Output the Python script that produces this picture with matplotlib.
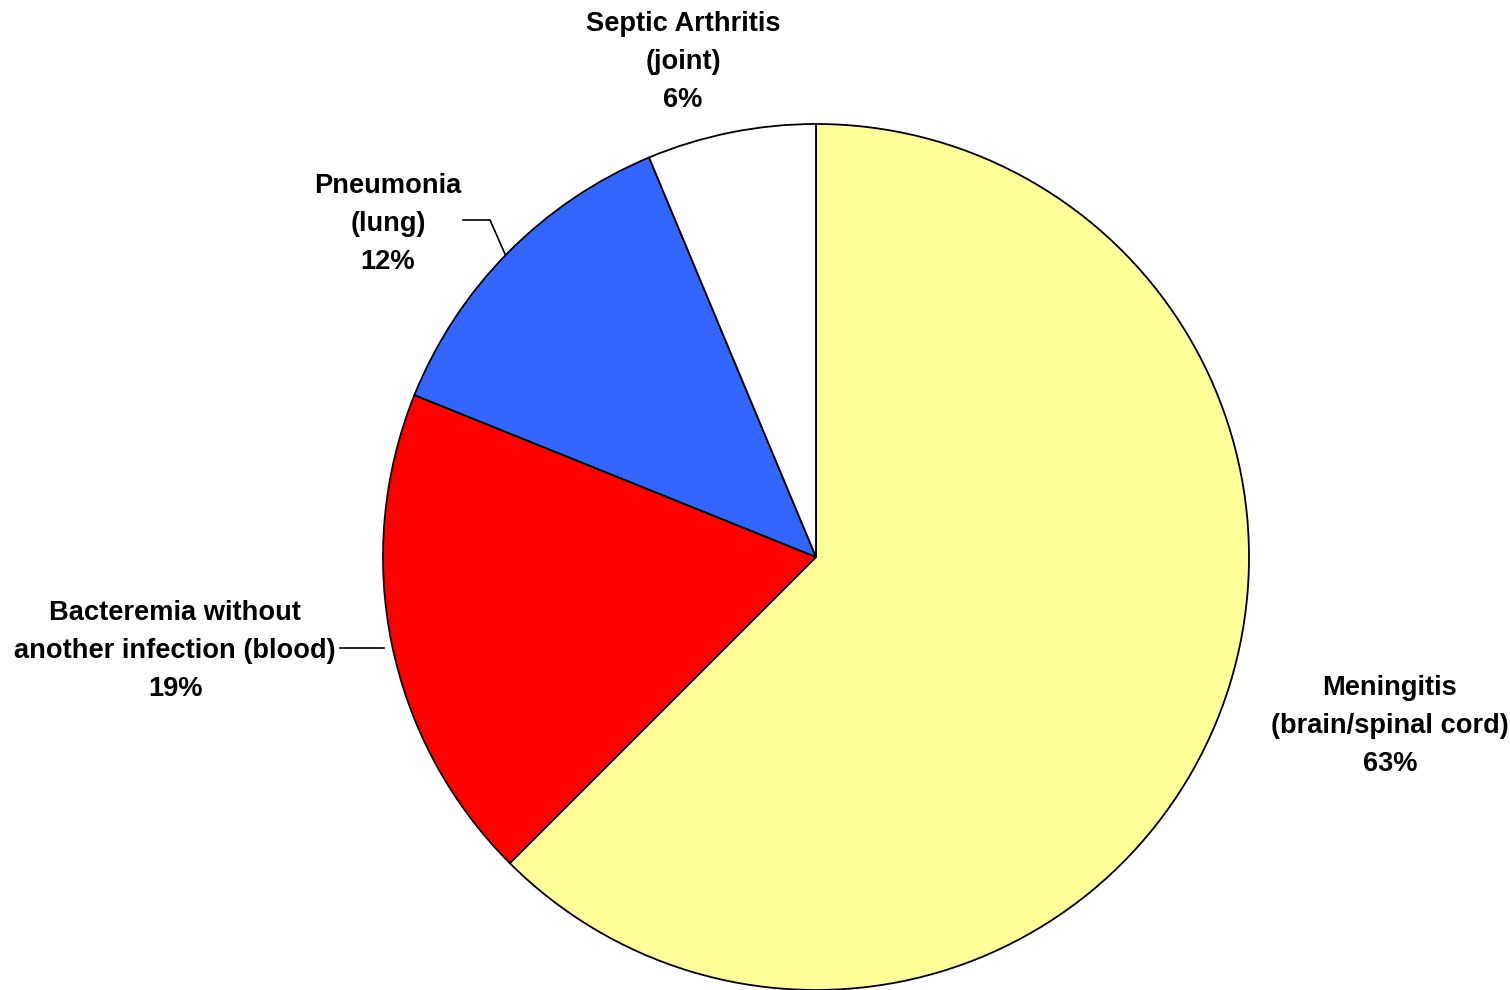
import matplotlib
matplotlib.use("Agg")
import matplotlib.pyplot as plt

# slices, clockwise from 12 o'clock
labels = ["Meningitis\n(brain/spinal cord)", "Bacteremia without\nanother infection (blood)",
          "Pneumonia\n(lung)", "Septic Arthritis\n(joint)"]
values = [62.5, 18.6, 12.6, 6.3]      # slice sizes as drawn
pct_text = [63, 19, 12, 6]           # percentages printed on labels
colors = ["#FFFF99", "#FF0000", "#3366FF", "#FFFFFF"]

# label centres (pixel coords, y from top)
label_pos = [(1390, 726), (175, 651), (388, 224), (683, 62)]

W, H = 1510, 990
fig = plt.figure(figsize=(W / 100, H / 100), dpi=100)
ax = fig.add_axes([0, 0, 1, 1])

cx, cy, r = 816, H - 557, 433
ax.pie(values, colors=colors, startangle=90, counterclock=False,
       center=(cx, cy), radius=r, frame=True,
       wedgeprops=dict(edgecolor="black", linewidth=1.3))
ax.set_xlim(0, W)
ax.set_ylim(0, H)
ax.set_aspect("equal")
ax.axis("off")

for lab, p, (x, y) in zip(labels, pct_text, label_pos):
    ax.text(x, H - y, f"{lab}\n{p}%", ha="center", va="center",
            fontsize=19.6, fontweight="bold", family="Liberation Sans",
            linespacing=1.58)

# leader lines
ax.plot([463, 490, 505], [H - 220, H - 220, H - 254], color="black", lw=1.2)
ax.plot([340, 384], [H - 648, H - 648], color="black", lw=1.2)

fig.savefig("out.png", dpi=100)
